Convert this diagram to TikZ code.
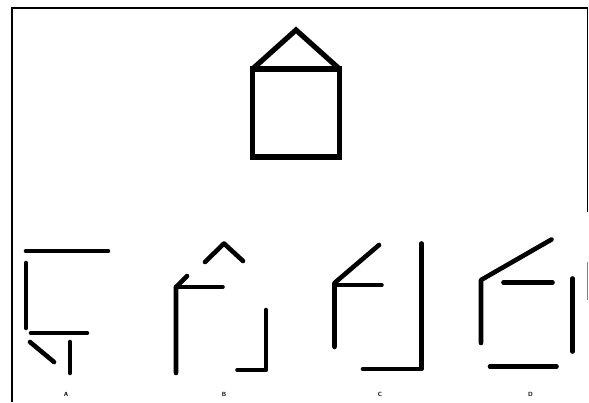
\documentclass[tikz,border=0pt]{standalone}
\begin{document}
\begin{tikzpicture}[x=1pt,y=-1pt,
  stroke/.style={line width=4.6pt,line cap=round,line join=round,black},
  housestroke/.style={line width=5.2pt,line cap=round,line join=miter,black},
  frameline/.style={line width=1.2pt,black},
  optlabel/.style={font=\sffamily\bfseries\fontsize{6}{7}\selectfont,inner sep=0pt}]
\useasboundingbox (0,0) rectangle (589,402);
% frame
\draw[frameline] (12,402) -- (12,8) -- (587.5,8) -- (587.5,212);
\draw[frameline,gray] (587.5,262) -- (587.5,300);
% target house
\draw[housestroke] (252.5,69) rectangle (339.5,157);
\draw[housestroke] (252.5,69) -- (296,30) -- (339.5,69);
% option A
\draw[stroke] (26,251) -- (108,251);
\draw[stroke] (26,263) -- (26,328);
\draw[stroke] (31,333) -- (87,333);
\draw[stroke] (30,342) -- (54,362);
\draw[stroke] (70,342) -- (70,373);
\node[optlabel] (la) at (66,394) {A};
% option B
\draw[stroke] (205,262) -- (224,243.5) -- (243,261);
\draw[stroke] (187,276) -- (176,287) -- (176,373);
\draw[stroke] (176,287) -- (222.5,287);
\draw[stroke] (266,310) -- (266,370) -- (237.5,370);
\node[optlabel] (lb) at (224,394) {B};
% option C
\draw[stroke] (379,245) -- (334.5,283) -- (334.5,347);
\draw[stroke] (334.5,285) -- (381.5,285);
\draw[stroke] (421.5,243.5) -- (421.5,369) -- (363,369);
\node[optlabel] (lc) at (380,394) {C};
% option D
\draw[stroke] (551.5,239.5) -- (481,280) -- (481,343);
\draw[stroke] (503.5,282.5) -- (552.5,282.5);
\draw[stroke] (572.5,278.5) -- (572.5,351.5);
\draw[stroke] (490,366.5) -- (556.5,366.5);
\node[optlabel] (ld) at (530.5,394) {D};
\end{tikzpicture}
\end{document}
